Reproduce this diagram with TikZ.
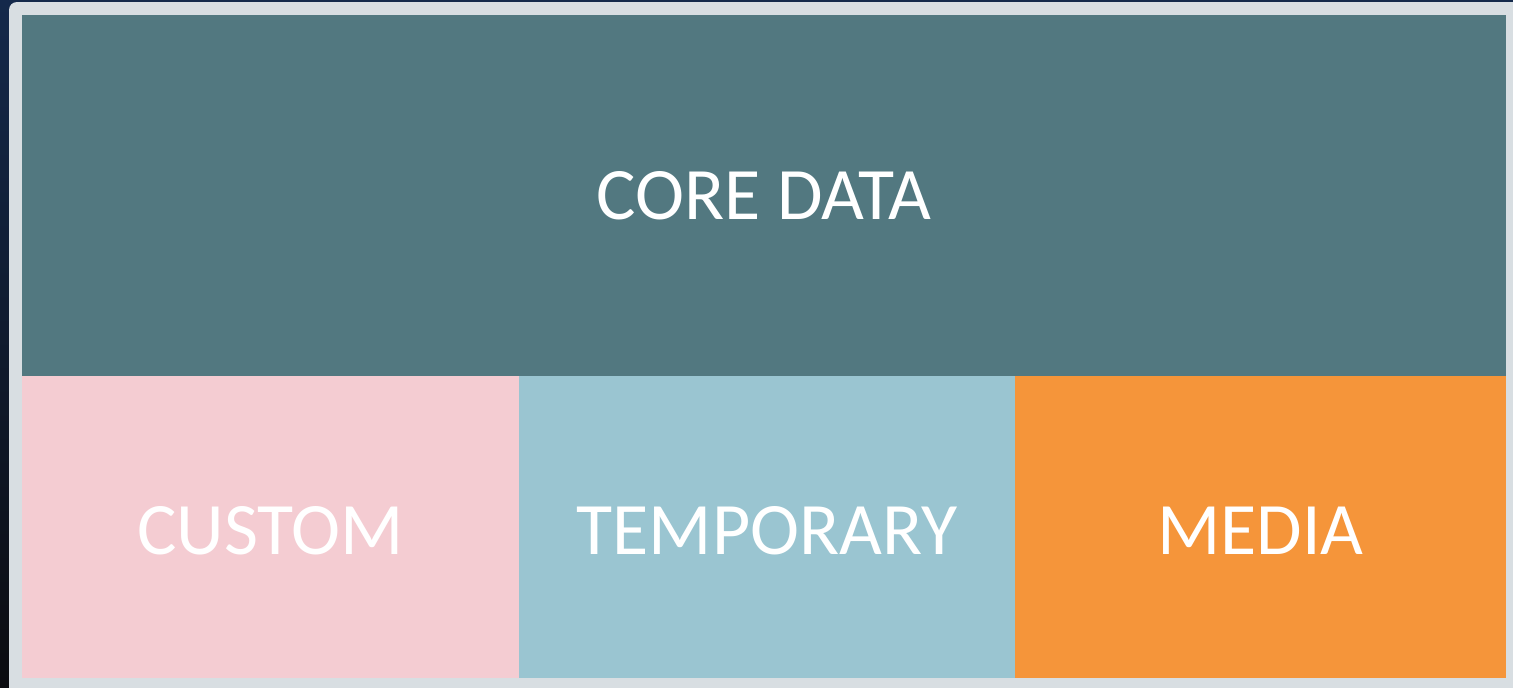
\documentclass[tikz,border=0pt]{standalone}
\usepackage{fontspec}
\setmainfont{Carlito}
\definecolor{navy}{HTML}{14294B}
\definecolor{nearblack}{HTML}{0B0C10}
\definecolor{panel}{HTML}{D8DEE2}
\definecolor{coreC}{HTML}{527880}
\definecolor{customC}{HTML}{F4CCD2}
\definecolor{tempC}{HTML}{9AC5D1}
\definecolor{mediaC}{HTML}{F5953A}
\tikzset{
  block/.style={draw=none, inner sep=0pt, outer sep=0pt, anchor=north west,
    text=white, font=\fontsize{74}{80}\selectfont, text height=47pt, text depth=0pt, align=center},
}
\begin{document}
\begin{tikzpicture}[x=1pt,y=-1pt]
\useasboundingbox (0,0) rectangle (1513,688);
\shade[top color=navy, bottom color=nearblack] (0,0) rectangle (1513,688);
\fill[panel, rounded corners=8pt] (9,2) rectangle (1530,705);
\node[block, fill=coreC, minimum width=1484pt, minimum height=362pt] (core) at (22,15) {CORE DATA};
\node[block, fill=customC, minimum width=497pt, minimum height=302pt] (custom) at (22,376) {\raisebox{-4pt}{CUSTOM}};
\node[block, fill=tempC, minimum width=496pt, minimum height=302pt] (temp) at (519,376) {\raisebox{-4pt}{TEMPORARY}};
\node[block, fill=mediaC, minimum width=491pt, minimum height=302pt] (media) at (1015,376) {\raisebox{-4pt}{MEDIA}};
\end{tikzpicture}
\end{document}
